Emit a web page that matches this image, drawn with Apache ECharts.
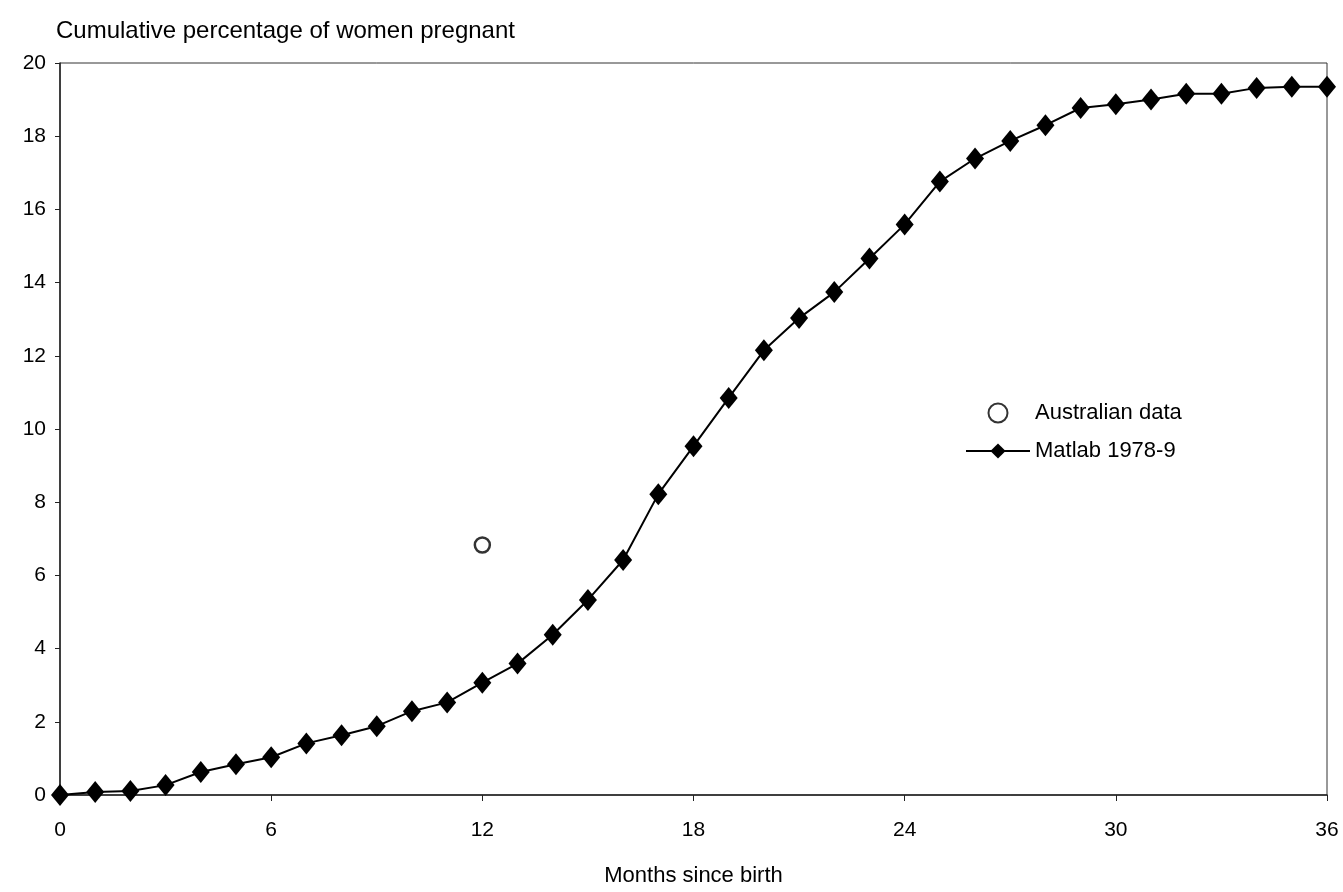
<!DOCTYPE html>
<html>
<head>
<meta charset="utf-8">
<script src="https://cdn.jsdelivr.net/npm/echarts@6/dist/echarts.min.js"></script>
<style>html,body{margin:0;padding:0;background:#fff;}#c{width:1343px;height:892px;}</style>
</head>
<body>
<div id="c"></div>
<script>
const months = [0,1,2,3,4,5,6,7,8,9,10,11,12,13,14,15,16,17,18,19,20,21,22,23,24,25,26,27,28,29,30,31,32,33,34,35,36];
const matlab = [0,0.08,0.11,0.27,0.63,0.84,1.03,1.41,1.63,1.88,2.29,2.53,3.07,3.59,4.38,5.33,6.42,8.22,9.53,10.85,12.15,13.03,13.74,14.66,15.59,16.76,17.39,17.87,18.3,18.77,18.87,19.0,19.16,19.16,19.32,19.35,19.35];
const australianX = [12];
const australianY = [6.83];
const xTicks = {min:0, max:36, interval:6};
const yTicks = {min:0, max:20, interval:2};

const font = 'Liberation Sans, Arial, sans-serif';
const chart = echarts.init(document.getElementById('c'));
chart.setOption({
  animation:false,
  backgroundColor:'#fff',
  textStyle:{fontFamily:font, color:'#000'},
  grid:{left:60, right:16, top:63, bottom:94, show:true, borderColor:'#333', borderWidth:1},
  legend:{
    orient:'vertical', left:960, top:397, itemGap:16, itemWidth:64, itemHeight:19,
    textStyle:{fontFamily:font, fontSize:22, color:'#000'},
    data:[{name:'Australian data'},{name:'Matlab 1978-9'}]
  },
  xAxis:{
    type:'value', min:xTicks.min, max:xTicks.max, interval:xTicks.interval,
    name:'Months since birth', nameLocation:'middle', nameGap:70,
    nameTextStyle:{fontFamily:font, fontSize:22, color:'#000'},
    axisLine:{show:true, onZero:false, lineStyle:{color:'#222', width:1.5}},
    axisTick:{show:true, inside:false, length:6, lineStyle:{color:'#222'}},
    axisLabel:{fontFamily:font, fontSize:21, color:'#000', margin:25},
    splitLine:{show:false}
  },
  yAxis:{
    type:'value', min:yTicks.min, max:yTicks.max, interval:yTicks.interval,
    name:'Cumulative percentage of women pregnant', nameLocation:'end', nameGap:20,
    nameTextStyle:{fontFamily:font, fontSize:24, color:'#000', align:'left', padding:[0,0,0,-4]},
    axisLine:{show:true, lineStyle:{color:'#222', width:1.5}},
    axisTick:{show:true, length:5, lineStyle:{color:'#222'}},
    axisLabel:{fontFamily:font, fontSize:21, color:'#000', margin:14},
    splitLine:{show:false}
  },
  series:[
    {
      name:'Australian data', type:'scatter',
      data:australianX.map((x,i)=>[x, australianY[i]]),
      symbol:'circle', symbolSize:15,
      itemStyle:{color:'#fff', borderColor:'#000', borderWidth:2.5},
      z:3
    },
    {
      name:'Matlab 1978-9', type:'line',
      data:months.map((m,i)=>[m, matlab[i]]),
      symbol:'diamond', symbolSize:[18,22], showAllSymbol:true,
      lineStyle:{color:'#000', width:2},
      itemStyle:{color:'#000'},
      z:2
    }
  ]
});
</script>
</body>
</html>
